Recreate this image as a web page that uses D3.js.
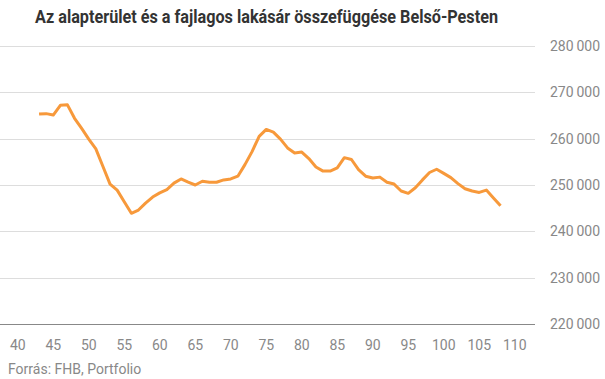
<!DOCTYPE html>
<html>
<head>
<meta charset="utf-8">
<script src="https://cdn.jsdelivr.net/npm/d3@7"></script>
<style>
  html, body { margin: 0; padding: 0; background: #fff; }
  svg { display: block; }
</style>
</head>
<body>
<svg id="chart" width="605" height="379"></svg>
<script>
const title = "Az alapterület és a fajlagos lakásár összefüggése Belső-Pesten";
const source = "Forrás: FHB, Portfolio";
const sizes = [43,44,45,46,47,48,49,50,51,52,53,54,55,56,57,58,59,60,61,62,63,64,65,66,67,68,69,70,71,72,73,74,75,76,77,78,79,80,81,82,83,84,85,86,87,88,89,90,91,92,93,94,95,96,97,98,99,100,101,102,103,104,105,106,107,108];
const prices = [265300,265400,265100,267200,267300,264400,262200,259900,257800,254000,250200,248900,246400,243900,244600,246100,247400,248300,249000,250400,251300,250600,250000,250800,250600,250600,251100,251300,251900,254400,257200,260500,262000,261400,259900,258000,256900,257100,255700,253900,253000,253000,253700,255900,255500,253300,251900,251500,251700,250600,250200,248700,248200,249400,251100,252700,253400,252500,251600,250300,249200,248700,248400,248900,247200,245500];
const yTicks = [220000,230000,240000,250000,260000,270000,280000];
const xTicks = [40,45,50,55,60,65,70,75,80,85,90,95,100,105,110];

const svg = d3.select("#chart");
const plotLeft = 0, plotRight = 535, plotTop = 46, plotBottom = 324;

const x = d3.scaleLinear().domain([37.5, 112.5]).range([0, 532.5]);
const y = d3.scaleLinear().domain([220000, 280000]).range([plotBottom, plotTop]);

const fmt = v => d3.format(",")(v).replace(/,/g, "\u2009");

// title
svg.append("text")
  .attr("x", 266.5).attr("y", 23)
  .attr("text-anchor", "middle")
  .attr("font-family", "Roboto, sans-serif")
  .attr("font-weight", "bold")
  .attr("font-size", 18)
  .attr("fill", "#333")
  .attr("textLength", 463)
  .attr("lengthAdjust", "spacingAndGlyphs")
  .text(title);

// grid lines
const grid = svg.append("g");
grid.selectAll("line").data(yTicks.filter(d => d !== 220000)).join("line")
  .attr("x1", plotLeft).attr("x2", plotRight)
  .attr("y1", d => Math.round(y(d)) + 0.5).attr("y2", d => Math.round(y(d)) + 0.5)
  .attr("stroke", "#dddddd").attr("stroke-width", 1);

// baseline
svg.append("line")
  .attr("x1", plotLeft).attr("x2", plotRight)
  .attr("y1", Math.round(y(220000)) + 0.5).attr("y2", Math.round(y(220000)) + 0.5)
  .attr("stroke", "#888").attr("stroke-width", 1);

// y labels
svg.append("g").selectAll("text").data(yTicks).join("text")
  .attr("x", 550).attr("y", d => y(d) + 5)
  .attr("font-family", "Roboto, sans-serif")
  .attr("font-size", 14)
  .attr("fill", "#888")
  .text(fmt);

// x labels
svg.append("g").selectAll("text").data(xTicks).join("text")
  .attr("x", d => x(d)).attr("y", 350)
  .attr("text-anchor", "middle")
  .attr("font-family", "Roboto, sans-serif")
  .attr("font-size", 14)
  .attr("fill", "#888")
  .text(d => d);

// line
const data = sizes.map((s, i) => ({ s, v: prices[i] }));
svg.append("path")
  .datum(data)
  .attr("fill", "none")
  .attr("stroke", "#f7993b")
  .attr("stroke-width", 3)
  .attr("stroke-linejoin", "round")
  .attr("d", d3.line().x(d => x(d.s)).y(d => y(d.v)));

// source
svg.append("text")
  .attr("x", 8).attr("y", 374)
  .attr("font-family", "Roboto, sans-serif")
  .attr("font-size", 14)
  .attr("fill", "#888")
  .text(source);
</script>
</body>
</html>
